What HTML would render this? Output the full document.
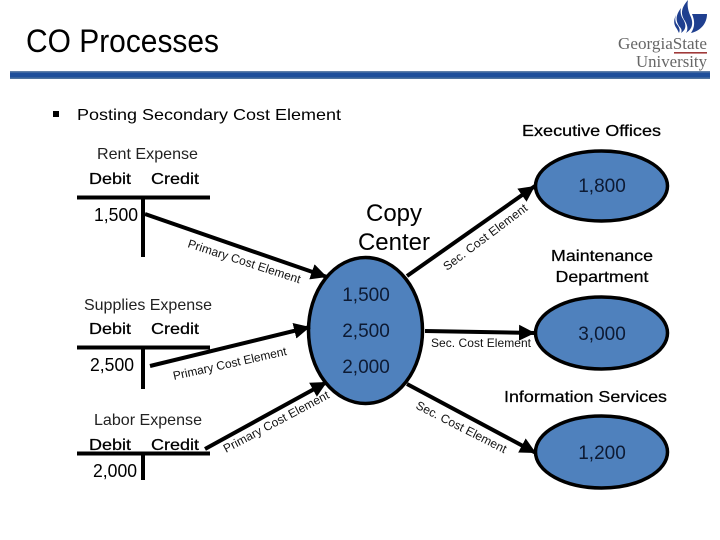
<!DOCTYPE html>
<html><head><meta charset="utf-8"><style>
html,body{margin:0;padding:0;background:#fff}
svg{display:block}
text{font-family:"Liberation Sans",Arial,sans-serif;fill:#000}
.n{font-size:18px}
.h{font-size:16px;fill:#222}
.d{font-size:16px;stroke:#000;stroke-width:.25}
.s{font-size:12px;fill:#111}
.l{stroke:#000;stroke-width:4;fill:none}
.a{stroke:#000;stroke-width:4;fill:none}
.e{fill:#4f81bd;stroke:#000;stroke-width:3.5}
.c{font-size:19px;fill:#0d1a33;text-anchor:middle}
.g{font-family:"Liberation Serif",serif;font-size:17px;fill:#666}
</style></head><body>
<svg width="720" height="540" viewBox="0 0 720 540" xmlns="http://www.w3.org/2000/svg">
<defs>
<marker id="m" markerUnits="userSpaceOnUse" markerWidth="18" markerHeight="18" refX="16" refY="8" orient="auto"><path d="M0 0L16 8L0 16Z" fill="#000"/></marker>
</defs>
<rect width="720" height="540" fill="#fff"/>
<text x="26" y="52" font-size="32" fill="#111" textLength="193" lengthAdjust="spacingAndGlyphs">CO Processes</text>
<rect x="10" y="71" width="700" height="8" fill="#1f4f9a"/>
<rect x="10" y="71" width="700" height="1.5" fill="#5f7fa8"/>
<rect x="10" y="77.5" width="700" height="1.5" fill="#50749f"/>

<!-- logo -->
<path d="M688 0C680 9 681 15 685 21C688 26 688 30 686 33C694 28 693 21 690 15C688 10 687 5 688 0Z" fill="#1f3f8f"/>
<path d="M681 8C675 16 676 21 679 26C682 29 682 31 681 33C687 29 686 24 683 19C681 16 680 12 681 8Z" fill="#1f3f8f"/>
<path d="M676 15C673 21 674 25 677 29L679 33C681 29 678 26 676 23C675 20 675 18 676 15Z" fill="#1f3f8f"/>
<path d="M692 14H707C707 24 700 31 691 33C695 27 695 21 692 14Z" fill="#1f3f8f"/>
<text x="618" y="49" class="g" textLength="89" lengthAdjust="spacingAndGlyphs">GeorgiaState</text>
<rect x="674" y="52" width="33" height="1.6" fill="#a03a3a"/>
<text x="636" y="67" class="g" textLength="71" lengthAdjust="spacingAndGlyphs">University</text>

<rect x="53" y="111" width="6" height="6" fill="#000"/>
<text x="77" y="120" font-size="16" textLength="264" lengthAdjust="spacingAndGlyphs">Posting Secondary Cost Element</text>
<text x="522" y="136" class="d" textLength="139" lengthAdjust="spacingAndGlyphs">Executive Offices</text>

<!-- T accounts -->
<text x="97" y="159" class="h" textLength="101" lengthAdjust="spacingAndGlyphs">Rent Expense</text>
<text x="89" y="184" class="d" textLength="42" lengthAdjust="spacingAndGlyphs">Debit</text>
<text x="151" y="184" class="d" textLength="48" lengthAdjust="spacingAndGlyphs">Credit</text>
<path class="l" d="M77 197.500H210M143 197V257"/>
<text x="94" y="221" class="n" textLength="44" lengthAdjust="spacingAndGlyphs">1,500</text>

<text x="84" y="310" class="h" textLength="128" lengthAdjust="spacingAndGlyphs">Supplies Expense</text>
<text x="89" y="334" class="d" textLength="42" lengthAdjust="spacingAndGlyphs">Debit</text>
<text x="151" y="334" class="d" textLength="48" lengthAdjust="spacingAndGlyphs">Credit</text>
<path class="l" d="M77 347.500H210M143 347V389"/>
<text x="90" y="371" class="n" textLength="44" lengthAdjust="spacingAndGlyphs">2,500</text>

<text x="94" y="425" class="h" textLength="108" lengthAdjust="spacingAndGlyphs">Labor Expense</text>
<text x="89" y="450" class="d" textLength="42" lengthAdjust="spacingAndGlyphs">Debit</text>
<text x="151" y="450" class="d" textLength="48" lengthAdjust="spacingAndGlyphs">Credit</text>
<path class="l" d="M77 453.500H210M143 453V480"/>
<text x="93" y="477" class="n" textLength="44" lengthAdjust="spacingAndGlyphs">2,000</text>

<!-- ellipses -->
<ellipse class="e" cx="365.500" cy="330.500" rx="57" ry="73"/>
<ellipse class="e" cx="601.500" cy="186" rx="66" ry="35"/>
<ellipse class="e" cx="601.500" cy="333" rx="66" ry="36"/>
<ellipse class="e" cx="601.500" cy="452" rx="66" ry="36"/>

<!-- arrows -->
<path class="a" marker-end="url(#m)" d="M145 214L327 277"/>
<path class="a" marker-end="url(#m)" d="M150 366L310 327"/>
<path class="a" marker-end="url(#m)" d="M205 449L327 382"/>
<path class="a" marker-end="url(#m)" d="M407 276L535 186"/>
<path class="a" marker-end="url(#m)" d="M425 331L535 333"/>
<path class="a" marker-end="url(#m)" d="M407 384L536 453"/>

<!-- arrow labels -->
<text class="s" transform="translate(187 247) rotate(18)" textLength="118" lengthAdjust="spacing">Primary Cost Element</text>
<text class="s" transform="translate(174 380) rotate(-12.500)" textLength="116" lengthAdjust="spacing">Primary Cost Element</text>
<text class="s" transform="translate(226 453) rotate(-28)" textLength="118" lengthAdjust="spacing">Primary Cost Element</text>
<text class="s" transform="translate(447 271) rotate(-37)" textLength="102" lengthAdjust="spacing">Sec. Cost Element</text>
<text class="s" x="431" y="347" textLength="100" lengthAdjust="spacing">Sec. Cost Element</text>
<text class="s" transform="translate(415 408) rotate(27)" textLength="100" lengthAdjust="spacing">Sec. Cost Element</text>

<!-- labels -->
<text x="394" y="221" font-size="24" text-anchor="middle" fill="#111">Copy</text>
<text x="394" y="250" font-size="24" text-anchor="middle" fill="#111">Center</text>
<text x="602" y="261" class="d" text-anchor="middle" textLength="102" lengthAdjust="spacingAndGlyphs">Maintenance</text>
<text x="602" y="282" class="d" text-anchor="middle" textLength="93" lengthAdjust="spacingAndGlyphs">Department</text>
<text x="504" y="402" class="d" textLength="163" lengthAdjust="spacingAndGlyphs">Information Services</text>

<text class="c" x="366" y="301">1,500</text>
<text class="c" x="366" y="337">2,500</text>
<text class="c" x="366" y="373">2,000</text>
<text class="c" x="602" y="192">1,800</text>
<text class="c" x="602" y="340">3,000</text>
<text class="c" x="602" y="459">1,200</text>
</svg>
</body></html>
